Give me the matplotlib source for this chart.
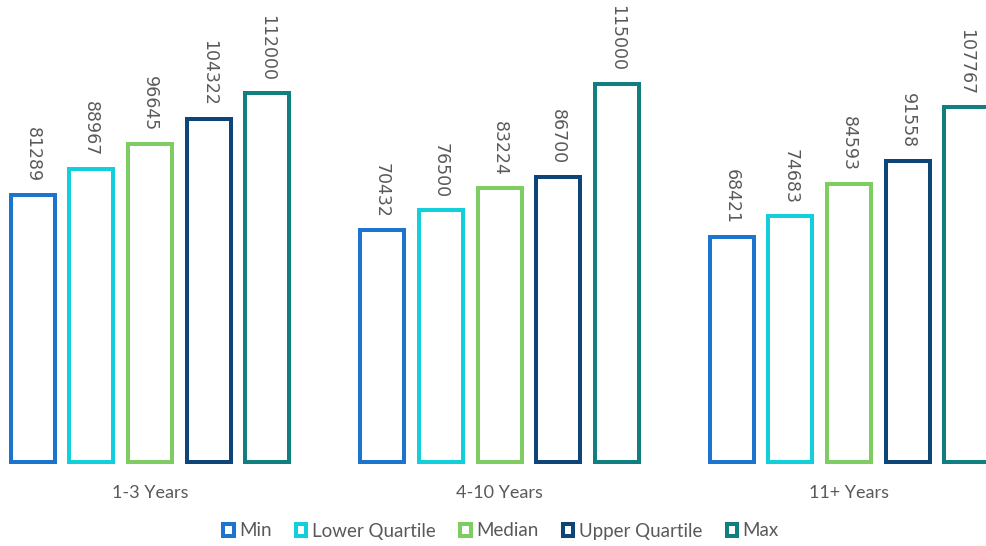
import matplotlib
matplotlib.use("Agg")
import matplotlib.pyplot as plt
from matplotlib.patches import Rectangle
import numpy as np

# Salary statistics by years of experience
categories = ["1-3 Years", "4-10 Years", "11+ Years"]
series_names = ["Min", "Lower Quartile", "Median", "Upper Quartile", "Max"]
min_vals = [81289, 70432, 68421]
lower_quartile = [88967, 76500, 74683]
median_vals = [96645, 83224, 84593]
upper_quartile = [104322, 86700, 91558]
max_vals = [112000, 115000, 107767]

series_values = [min_vals, lower_quartile, median_vals, upper_quartile, max_vals]
colors = ["#1C74CE", "#12CFDB", "#7ECC62", "#0E4579", "#117E7F"]
text_color = "#595959"

W, H, DPI = 987, 546, 100
fig = plt.figure(figsize=(W / DPI, H / DPI), dpi=DPI)
fig.patch.set_facecolor("white")

base_px = 462.0                      # baseline, pixels from top
ax = fig.add_axes([0, (H - base_px) / H, 1, base_px / H])
ax.set_facecolor("none")

group_pitch = 349.5
first_center = 150.0
ymax = 140400
ax.set_xlim(-first_center / group_pitch, (W - first_center) / group_pitch)
ax.set_ylim(0, ymax)
ax.axis("off")

x = np.arange(len(categories))
offset = 58.7 / group_pitch
bar_w = 44.0 / group_pitch
lw = 4.0 * 72 / DPI

for i, (name, vals, c) in enumerate(zip(series_names, series_values, colors)):
    pos = x + (i - 2) * offset
    ax.bar(pos, vals, width=bar_w, facecolor="white", edgecolor=c,
           linewidth=lw, label=name, clip_on=False)
    for p, v in zip(pos, vals):
        ax.annotate(f"{v}", xy=(p, v), xytext=(0, 9), textcoords="offset points",
                    rotation=270, ha="center", va="bottom", color=text_color,
                    fontsize=12.5, family="DejaVu Sans", annotation_clip=False)

for xi, cat in zip(x, categories):
    ax.text(xi, -30.5 * ymax / base_px, cat, ha="center", va="center",
            color=text_color, fontsize=13, family="Lato")

handles = [Rectangle((0, 0), 1, 1, facecolor="white", edgecolor=c,
                     linewidth=2.9) for c in colors]
leg = fig.legend(handles, series_names, loc="center",
                 bbox_to_anchor=(501 / W, 1 - 531 / H), ncol=5, frameon=False,
                 handlelength=0.55, handleheight=0.55, handletextpad=0.3,
                 columnspacing=1.3, prop={"family": "Lato", "size": 13.5})
for t in leg.get_texts():
    t.set_color(text_color)

fig.savefig("out.png", dpi=DPI, facecolor="white")
